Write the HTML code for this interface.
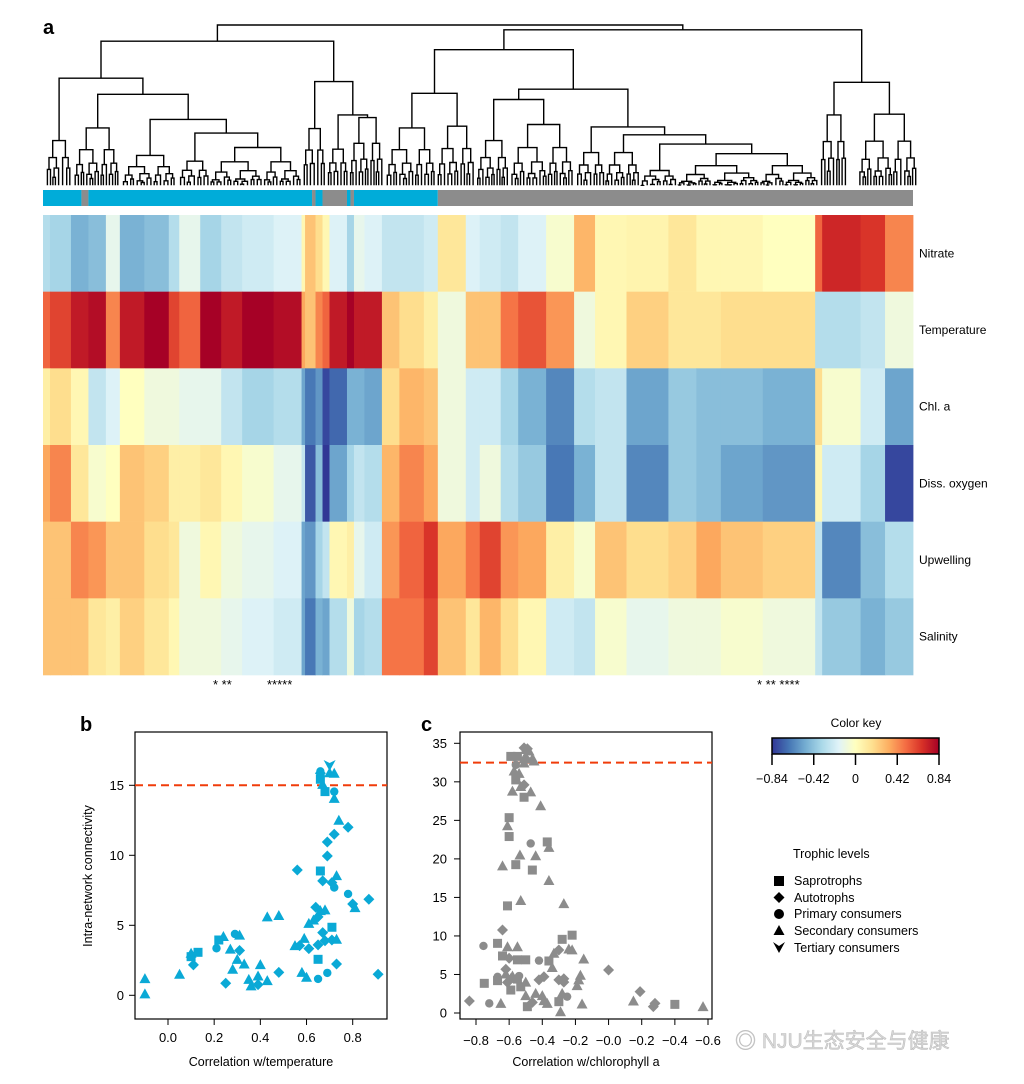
<!DOCTYPE html>
<html><head><meta charset="utf-8"><style>
html,body{margin:0;padding:0;background:#fff;}
svg{display:block;font-family:"Liberation Sans",Arial,sans-serif;}
</style></head>
<body>
<svg id="fig" width="1024" height="1084" viewBox="0 0 1024 1084" xmlns="http://www.w3.org/2000/svg">
<rect width="1024" height="1084" fill="#fff"/>
<text x="43" y="34" font-size="20" font-weight="bold">a</text>
<text x="80" y="731" font-size="20" font-weight="bold">b</text>
<text x="421" y="731" font-size="20" font-weight="bold">c</text>
<g id="dendro"></g>
<g id="clusterbar"></g>
<g id="heat"></g>
<g id="rowlabels"></g>
<g font-size="13">
<text x="213" y="689">* **</text>
<text x="267" y="689">*****</text>
<text x="757" y="689">* ** ****</text>
</g>
<g id="panelb"></g>
<g id="panelc"></g>
<g id="colorkey">
<defs><linearGradient id="rdylbu" x1="0" x2="1" y1="0" y2="0">
<stop offset="0" stop-color="#313695"/><stop offset="0.1" stop-color="#4575b4"/><stop offset="0.2" stop-color="#74add1"/><stop offset="0.3" stop-color="#abd9e9"/><stop offset="0.4" stop-color="#e0f3f8"/><stop offset="0.5" stop-color="#ffffbf"/><stop offset="0.6" stop-color="#fee090"/><stop offset="0.7" stop-color="#fdae61"/><stop offset="0.8" stop-color="#f46d43"/><stop offset="0.9" stop-color="#d73027"/><stop offset="1" stop-color="#a50026"/>
</linearGradient></defs>
<text x="856" y="727" font-size="12" text-anchor="middle">Color key</text>
<rect x="772" y="738" width="167" height="16" fill="url(#rdylbu)" stroke="#000" stroke-width="1.5"/>
</g>
<g font-size="12.5">
<text x="793" y="858">Trophic levels</text>
<rect x="774" y="876" width="10" height="10" fill="#000"/>
<text x="794" y="885">Saprotrophs</text>
<polygon points="779,892 784.5,897.5 779,903 773.5,897.5" fill="#000"/>
<text x="794" y="902">Autotrophs</text>
<circle cx="779" cy="914" r="5" fill="#000"/>
<text x="794" y="918">Primary consumers</text>
<polygon points="779,925 784.5,935 773.5,935" fill="#000"/>
<text x="794" y="935">Secondary consumers</text>
<polygon points="773,942 779,946 785,942 779,953" fill="#000"/>
<text x="794" y="952">Tertiary consumers</text>
</g>
<text x="735" y="1048" font-size="21" fill="#d8d8d8" stroke="#bbbbbb" stroke-width="0.5" font-family="'Liberation Sans','Noto Sans CJK SC',sans-serif">◎ NJU生态安全与健康</text>
</svg>
<script>
const NS="http://www.w3.org/2000/svg";
function mk(parent,tag,attrs){const e=document.createElementNS(NS,tag);for(const k in attrs)e.setAttribute(k,attrs[k]);parent.appendChild(e);return e;}

/* ---------- heatmap data ---------- */
const rowNames=["Nitrate","Temperature","Chl. a","Diss. oxygen","Upwelling","Salinity"];
const segEnds=[2,8,13,18,22,29,36,39,45,51,57,66,74,75,78,80,82,87,89,92,97,102,109,113,121,125,131,136,144,152,158,167,179,187,194,206,221,223,234,241,249];
const nitrate=[-0.35,-0.4,-0.55,-0.5,-0.15,-0.55,-0.5,-0.35,-0.15,-0.4,-0.3,-0.25,-0.2,0.05,0.3,0.2,0.05,-0.2,-0.4,-0.15,-0.2,-0.3,-0.3,-0.25,0.15,-0.2,-0.25,-0.3,-0.2,-0.05,0.35,0.05,0.07,0.15,0.05,0.05,0.0,0.6,0.8,0.75,0.5];
const temperature=[0.6,0.7,0.85,0.9,0.5,0.85,0.95,0.7,0.6,0.95,0.85,0.95,0.9,0.4,0.3,0.5,0.6,0.85,0.95,0.85,0.85,0.3,0.2,0.1,-0.1,0.3,0.3,0.55,0.65,0.45,-0.1,0.05,0.25,0.15,0.15,0.2,0.2,-0.35,-0.35,-0.3,-0.1];
const chla=[0.1,0.2,0.05,-0.3,-0.2,0.0,-0.1,-0.1,-0.15,-0.15,-0.3,-0.4,-0.35,-0.6,-0.75,-0.65,-0.9,-0.8,-0.55,-0.55,-0.6,0.2,0.35,0.3,-0.1,-0.25,-0.25,-0.4,-0.55,-0.7,-0.35,-0.3,-0.6,-0.45,-0.5,-0.5,-0.55,0.2,-0.05,-0.25,-0.6];
const oxygen=[0.4,0.5,0.15,-0.05,0.0,0.3,0.25,0.1,0.1,0.15,0.05,-0.05,-0.15,-0.3,-0.85,-0.5,-0.95,-0.6,-0.4,-0.3,-0.35,0.35,0.5,0.4,-0.1,-0.25,-0.1,-0.35,-0.45,-0.75,-0.55,-0.3,-0.7,-0.45,-0.5,-0.6,-0.65,0.05,-0.25,-0.4,-0.9];
const upwelling=[0.3,0.3,0.5,0.45,0.3,0.3,0.2,0.15,-0.1,0.05,-0.1,-0.15,-0.2,-0.6,-0.65,-0.4,-0.3,0.05,0.1,-0.15,-0.25,0.45,0.6,0.75,0.4,0.55,0.7,0.45,0.4,0.1,-0.05,0.3,0.2,0.25,0.4,0.3,0.25,-0.3,-0.7,-0.5,-0.35];
const salinity=[0.3,0.3,0.3,0.15,0.1,0.25,0.15,0.05,-0.1,-0.1,-0.15,-0.2,-0.25,-0.6,-0.75,-0.55,-0.6,-0.35,-0.1,-0.4,-0.35,0.55,0.55,0.7,0.3,0.15,0.35,0.2,0.05,-0.25,-0.3,-0.05,-0.15,-0.1,-0.1,-0.05,-0.1,-0.3,-0.45,-0.55,-0.45];
const clusterEnds=[11,13,77,78,80,87,88,89,113,249];
const clusterGroup=["b","g","b","g","b","g","b","g","b","g"];
const keyTicks=[-0.84,-0.42,0,0.42,0.84];
const keyLabels=["\u22120.84","\u22120.42","0","0.42","0.84"];

const HX0=43,HX1=913,NCOL=249,HY0=215,HY1=675;
const colX=c=>HX0+c*(HX1-HX0)/NCOL;
const rowY=r=>HY0+r*(HY1-HY0)/rowNames.length;
const stops=["#313695","#4575b4","#74add1","#abd9e9","#e0f3f8","#ffffbf","#fee090","#fdae61","#f46d43","#d73027","#a50026"];
function hex(h){return [1,3,5].map(i=>parseInt(h.substr(i,2),16));}
function colorOf(v){v=v*1.05;let t=(Math.max(-1,Math.min(1,v))+1)/2*10;let i=Math.min(9,Math.floor(t));let f=t-i;let a=hex(stops[i]),b=hex(stops[i+1]);return "rgb("+a.map((x,k)=>Math.round(x+(b[k]-x)*f)).join(",")+")";}

const heat=document.getElementById("heat");
const rows=[nitrate,temperature,chla,oxygen,upwelling,salinity];
rows.forEach((vals,r)=>{
  let start=0;
  segEnds.forEach((end,s)=>{
    const x0=colX(start),x1=colX(end);
    const el=mk(heat,"rect",{x:x0,y:rowY(r),width:x1-x0+0.4,height:rowY(r+1)-rowY(r)+0.3,fill:colorOf(vals[s])});
    
    
    start=end;
  });
});
const rl=document.getElementById("rowlabels");
rowNames.forEach((n,r)=>{
  const t=mk(rl,"text",{x:919,y:(rowY(r)+rowY(r+1))/2+4,"font-size":12});
  t.textContent=n;
  
  
});
/* cluster bar */
const cb=document.getElementById("clusterbar");
let cs=0;
clusterEnds.forEach((e,i)=>{
  const el=mk(cb,"rect",{x:colX(cs),y:190,width:colX(e)-colX(cs),height:16,fill:clusterGroup[i]==="b"?"#00acd9":"#8c8c8c"});
  
  
  cs=e;
});
/* color key ticks */
const ck=document.getElementById("colorkey");
const keyX=v=>772+(v+0.84)/1.68*167;
keyTicks.forEach((v,i)=>{
  const l=mk(ck,"line",{x1:keyX(v),x2:keyX(v),y1:754,y2:765,stroke:"#000","stroke-width":1.5});
  
  
  const t=mk(ck,"text",{x:keyX(v),y:783,"font-size":12.5,"text-anchor":"middle"});
  t.textContent=keyLabels[i];
  
  
});

/* ---------- dendrogram (zoom-space layout) ---------- */
const DX=zx=>40+zx*0.565, DY=zy=>12+zy*0.343, BASE=505;
function auto(a,b,y,d){d=d||0;if(b-a<8)return {x:(a+b)/2,y:BASE};
  const m=a+(b-a)*(d%2?0.42:0.58);const ny=y+(BASE-y)*0.38;
  const c1=auto(a,m,ny+(d%3)*4,d+1),c2=auto(m,b,ny,d+1);
  return {x:(c1.x+c2.x)/2,y:y,k:[c1,c2]};}
function node(y,c1,c2){return {x:(c1.x+c2.x)/2,y:y,k:[c1,c2]};}
const tree=node(38,
  node(85,
    node(193, auto(10,55,375), node(240, auto(60,140,338), node(313, auto(145,240,418), node(353, auto(245,300,435), auto(300,462,395))))),
    node(203, auto(465,505,340), node(300, auto(508,545,400), auto(548,608,308)))),
  node(52,
    node(110,
      node(237, auto(612,700,338), auto(703,770,333)),
      node(225,
        node(255, auto(773,830,375), auto(832,945,328)),
        node(335, auto(948,1000,410), node(358, auto(1000,1062,410), node(385, auto(1062,1128,462), auto(1128,1378,413)))))),
    node(205, auto(1380,1428,300), auto(1448,1553,298))));
const dg=document.getElementById("dendro");
let dpath="";
(function draw(n){if(!n.k)return;const [a,b]=n.k;
  dpath+=`M${DX(a.x).toFixed(1)} ${DY(a.y).toFixed(1)}V${DY(n.y).toFixed(1)}H${DX(b.x).toFixed(1)}V${DY(b.y).toFixed(1)}`;
  draw(a);draw(b);})(tree);
const dp=mk(dg,"path",{d:dpath,fill:"none",stroke:"#000","stroke-width":1.4});



/* ---------- scatter helpers ---------- */
function marker(g,shape,x,y,col){let e;
  if(shape==="s")e=mk(g,"rect",{x:x-4.5,y:y-4.5,width:9,height:9,fill:col});
  else if(shape==="d")e=mk(g,"polygon",{points:`${x},${y-5.5} ${x+5.5},${y} ${x},${y+5.5} ${x-5.5},${y}`,fill:col});
  else if(shape==="c")e=mk(g,"circle",{cx:x,cy:y,r:4.2,fill:col});
  else if(shape==="t")e=mk(g,"polygon",{points:`${x},${y-5.5} ${x+5.5},${y+4.5} ${x-5.5},${y+4.5}`,fill:col});
  else e=mk(g,"polygon",{points:`${x-6},${y-5} ${x},${y-2} ${x+6},${y-5} ${x},${y+6}`,fill:col});
  return e;}
function frame(g,x0,y0,x1,y1){const r=mk(g,"rect",{x:x0,y:y0,width:x1-x0,height:y1-y0,fill:"none",stroke:"#000","stroke-width":1.2});
  }

/* ---------- panel b data ---------- */
const bX=[-0.10,-0.10,0.05,0.10,0.10,0.13,0.11,0.21,0.22,0.24,0.27,0.28,0.25,0.29,0.31,0.31,0.30,0.33,0.35,0.36,0.39,0.39,0.40,0.43,0.48,0.43,0.48,0.56,0.55,0.57,0.58,0.59,0.61,0.60,0.65,0.65,0.65,0.69,0.61,0.63,0.64,0.65,0.66,0.68,0.67,0.68,0.71,0.73,0.73,0.71,0.66,0.67,0.73,0.71,0.72,0.69,0.69,0.72,0.74,0.78,0.78,0.80,0.81,0.87,0.91,0.72,0.72,0.68,0.67,0.66,0.66,0.66,0.70,0.72,0.70];
const bY=[1.19,0.1,1.5,3.0,2.76,3.07,2.17,3.36,3.95,4.2,3.3,1.86,0.86,4.38,4.3,3.2,2.57,2.24,1.14,0.67,0.76,1.38,2.19,1.05,1.64,5.6,5.7,8.95,3.55,3.55,1.64,4.07,3.33,1.29,1.17,3.6,2.57,1.6,5.14,5.38,6.29,5.6,6.05,6.1,4.48,3.9,3.95,4.0,2.24,4.86,8.88,8.17,8.55,8.05,7.7,9.95,10.95,11.5,12.5,12.0,7.24,6.52,6.26,6.86,1.5,14.07,14.55,14.55,15.07,15.43,15.86,16.0,15.9,15.86,16.45];
const bShape=["t","t","t","t","s","s","d","c","s","t","t","t","d","c","t","d","t","t","t","t","d","t","t","t","d","t","t","d","t","d","t","t","d","t","c","d","s","c","t","t","d","d","t","t","d","d","d","t","d","s","s","d","t","d","c","d","d","d","t","d","c","d","t","d","d","t","c","s","t","s","d","c","t","t","v"];
const bXTicks=[0,0.2,0.4,0.6,0.8];
const bXLabels=["0.0","0.2","0.4","0.6","0.8"];
const bYTicks=[0,5,10,15];
const bThreshold=15;

(function(){const g=document.getElementById("panelb");
  const x=v=>168+v*(352.7-168)/0.8, y=v=>995.3-v*14;
  frame(g,135,732,387,1019);
  bXTicks.forEach((v,i)=>{const l=mk(g,"line",{x1:x(v),x2:x(v),y1:1019,y2:1025,stroke:"#000"});
    
    const t=mk(g,"text",{x:x(v),y:1042,"font-size":13,"text-anchor":"middle"});t.textContent=bXLabels[i];
    });
  bYTicks.forEach(v=>{const l=mk(g,"line",{x1:129,x2:135,y1:y(v),y2:y(v),stroke:"#000"});
    
    const t=mk(g,"text",{x:124,y:y(v)+4.5,"font-size":13,"text-anchor":"end"});t.textContent=v;
    });
  const xt=mk(g,"text",{x:261,y:1066,"font-size":12.5,"text-anchor":"middle"});xt.textContent="Correlation w/temperature";
  
  const yt=mk(g,"text",{x:0,y:0,"font-size":12.5,"text-anchor":"middle",transform:"translate(92,876) rotate(-90)"});yt.textContent="Intra-network connectivity";
  
  const th=mk(g,"line",{x1:135,x2:387,y1:y(bThreshold),y2:y(bThreshold),stroke:"#f03c0a","stroke-width":2,"stroke-dasharray":"8,5"});
  
  bX.forEach((v,i)=>{const m=marker(g,bShape[i],x(v),y(bY[i]),"#0aa9d6");
    });
})();

/* ---------- panel c data ---------- */
const cX=[-0.84,-0.72,-0.65,-0.75,-0.755,-0.67,-0.67,-0.67,-0.64,-0.64,-0.62,-0.62,-0.61,-0.60,-0.61,-0.59,-0.59,-0.58,-0.55,-0.55,-0.54,-0.55,-0.53,-0.50,-0.50,-0.50,-0.49,-0.46,-0.44,-0.42,-0.42,-0.39,-0.40,-0.39,-0.37,-0.36,-0.34,-0.33,-0.30,-0.30,-0.30,-0.29,-0.27,-0.28,-0.25,-0.27,-0.28,-0.22,-0.24,-0.22,-0.19,-0.18,-0.17,-0.15,-0.16,0.0,0.15,0.19,0.27,0.28,0.40,0.57,-0.61,-0.53,-0.64,-0.56,-0.535,-0.47,-0.37,-0.36,-0.44,-0.46,-0.36,-0.27,-0.61,-0.60,-0.60,-0.41,-0.58,-0.47,-0.51,-0.51,-0.53,-0.56,-0.54,-0.57,-0.56,-0.59,-0.55,-0.51,-0.51,-0.50,-0.46,-0.45,-0.51,-0.50,-0.48,-0.49];
const cY=[1.56,1.25,1.25,3.85,8.7,4.2,4.7,9.04,10.77,7.4,5.06,5.67,8.6,7.1,3.98,4.5,2.98,4.8,8.6,6.9,4.8,4.4,3.4,6.9,4.0,2.25,0.82,1.38,2.55,4.3,6.8,4.7,2.25,1.6,1.25,6.75,5.9,7.75,8.18,4.3,1.47,0.17,4.0,2.55,2.12,4.45,9.56,10.1,8.3,8.2,3.55,4.3,4.9,7.0,1.17,5.58,1.56,2.77,0.82,1.25,1.12,0.82,13.9,14.6,19.1,19.25,20.5,22.0,22.2,21.5,20.4,18.55,17.2,14.2,24.3,25.35,22.9,26.9,28.8,28.7,28.0,29.6,29.4,30.25,31.1,31.4,32.2,33.3,33.3,32.45,33.0,33.0,33.0,32.7,34.4,34.2,34.0,34.3];
const cShape=["d","c","t","s","c","s","c","s","d","s","t","d","t","d","d","t","s","t","t","s","c","s","s","s","t","t","s","d","t","d","c","d","t","t","t","s","t","t","d","d","s","t","d","t","c","d","s","s","t","t","t","t","t","t","t","d","t","d","d","d","s","t","s","t","t","s","t","c","s","t","t","s","t","t","t","s","s","t","t","t","s","d","t","s","t","t","c","s","s","t","t","d","t","t","d","t","t","d"];
const cXTicks=[-0.8,-0.6,-0.4,-0.2,0.0,0.2,0.4,0.6];
const cXLabels=["\u22120.8","\u22120.6","\u22120.4","\u22120.2","\u22120.0","\u22120.2","\u22120.4","\u22120.6"];
const cYTicks=[0,5,10,15,20,25,30,35];
const cThreshold=32.5;

(function(){const g=document.getElementById("panelc");
  const x=v=>476+(v+0.8)*(708-476)/1.4, y=v=>1013-v*(1013-743.3)/35;
  frame(g,460,732,712,1019);
  cXTicks.forEach((v,i)=>{const l=mk(g,"line",{x1:x(v),x2:x(v),y1:1019,y2:1025,stroke:"#000"});
    
    const t=mk(g,"text",{x:x(v),y:1045,"font-size":13,"text-anchor":"middle"});t.textContent=cXLabels[i];
    });
  cYTicks.forEach(v=>{const l=mk(g,"line",{x1:454,x2:460,y1:y(v),y2:y(v),stroke:"#000"});
    
    const t=mk(g,"text",{x:447,y:y(v)+4.5,"font-size":13,"text-anchor":"end"});t.textContent=v;
    });
  const xt=mk(g,"text",{x:586,y:1066,"font-size":12.5,"text-anchor":"middle"});xt.textContent="Correlation w/chlorophyll a";
  
  const th=mk(g,"line",{x1:460,x2:712,y1:y(cThreshold),y2:y(cThreshold),stroke:"#f03c0a","stroke-width":2,"stroke-dasharray":"8,5"});
  
  cX.forEach((v,i)=>{const m=marker(g,cShape[i]||"t",x(v),y(cY[i]),"#8c8c8c");
    });
})();
</script>
</body></html>
